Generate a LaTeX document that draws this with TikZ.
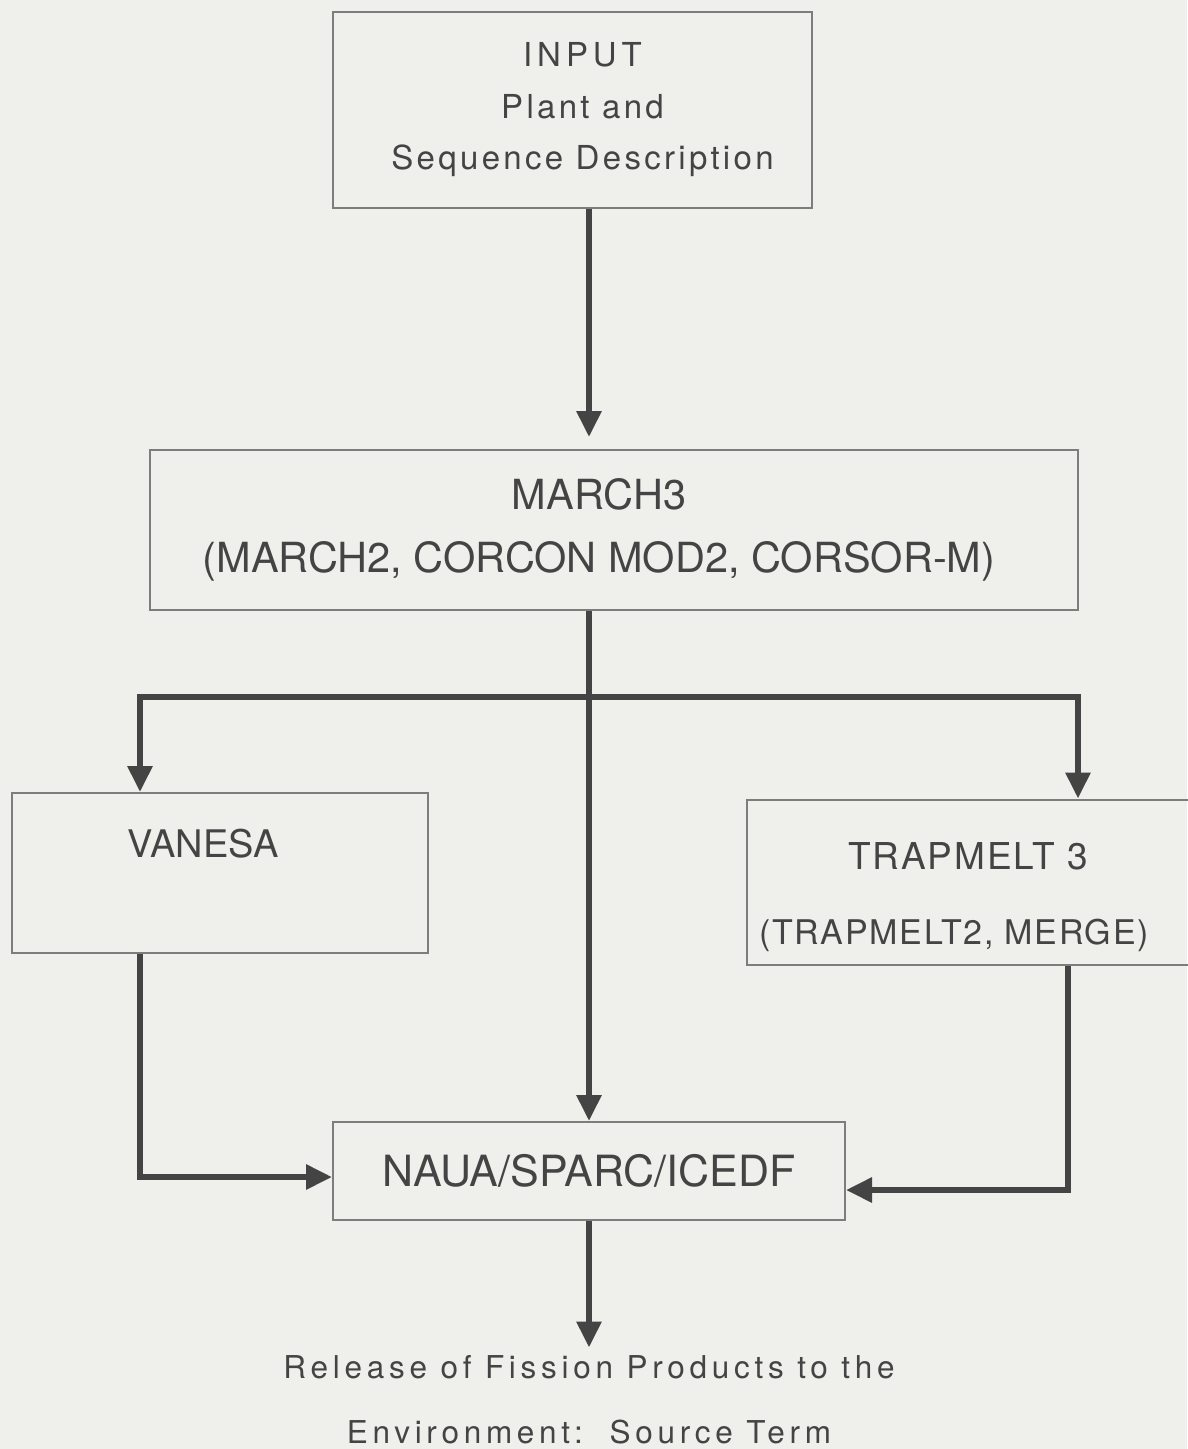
\documentclass[tikz,border=0pt]{standalone}
\usepackage{fontspec}
\setmainfont{TeX Gyre Heros}
\newfontfamily\spacedfont[LetterSpace=10]{TeX Gyre Heros}
\newfontfamily\widefont[LetterSpace=15]{TeX Gyre Heros}
\newfontfamily\slightfont[LetterSpace=5]{TeX Gyre Heros}
\usetikzlibrary{positioning,calc,arrows.meta}
\definecolor{paper}{RGB}{239,239,236}
\definecolor{ink}{RGB}{68,68,68}
\definecolor{rule}{RGB}{125,125,125}

\begin{document}
\begin{tikzpicture}[x=1pt,y=-1pt,
  box/.style={draw=rule,line width=2pt,inner sep=0pt,align=center,text=ink},
  flow/.style={draw=ink,line width=6pt,line join=miter},
  tip/.tip={Triangle[width=24pt,length=26pt]},
  arrow/.style={flow,-tip},
  twoway/.style={flow,tip-tip}]
\fill[paper] (0,0) rectangle (1187,1449);
\useasboundingbox (0,0) rectangle (1187,1449);

% boxes
\node[box,minimum width=479pt,minimum height=196pt,font=\spacedfont\fontsize{33}{51.5}\selectfont] (input) at (572.5,110) {\hspace*{20pt}{\widefont INPUT}\\\hspace*{20pt}Plant and\\\hspace*{20pt}Sequence Description};
\node[box,minimum width=928pt,minimum height=160pt,font=\fontsize{41.5}{63}\selectfont] (march) at (614,530) {MARCH3\hspace*{30pt}\\(MARCH2, CORCON MOD2, CORSOR-M)\hspace*{30pt}};
\node[box,minimum width=416pt,minimum height=160pt,font=\fontsize{38}{60}\selectfont] (vanesa) at (220,873) {VANESA\hspace*{34pt}\\\mbox{}};
\node[box,minimum width=443pt,minimum height=165pt,font=\slightfont\fontsize{37}{75}\selectfont] (trapmelt) at (968,882) {\rule{0pt}{57pt}TRAPMELT 3\\{\fontsize{34}{75}\selectfont(TRAPMELT2, MERGE)}\hspace*{28pt}};
\node[box,minimum width=512pt,minimum height=98pt,font=\fontsize{43}{50}\selectfont] (naua) at (589,1171) {NAUA/SPARC/ICEDF};
\node[align=center,text=ink,inner sep=0pt,font=\widefont\fontsize{31.5}{65}\selectfont] (release) at (589,1400) {Release of Fission Products to the\\Environment:\ \ Source Term};

% connectors
\coordinate (lt) at (140,697);
\coordinate (rt) at (1078,697);
\draw[arrow,shorten >=12pt] (naua.north |- input.south) -- (naua.north |- march.north);
\draw[arrow] (naua.north |- march.south) -- (naua.north);
\draw[twoway] (lt |- vanesa.north) -- (lt) -- (rt) -- (rt |- trapmelt.north);
\draw[arrow] (lt |- vanesa.south) |- ([yshift=-6pt]naua.west);
\draw[arrow] ([xshift=100pt]trapmelt.south) |- ([yshift=-19pt]naua.east);
\draw[arrow] (naua.south) -- ([yshift=8pt]release.north);
\end{tikzpicture}
\end{document}
